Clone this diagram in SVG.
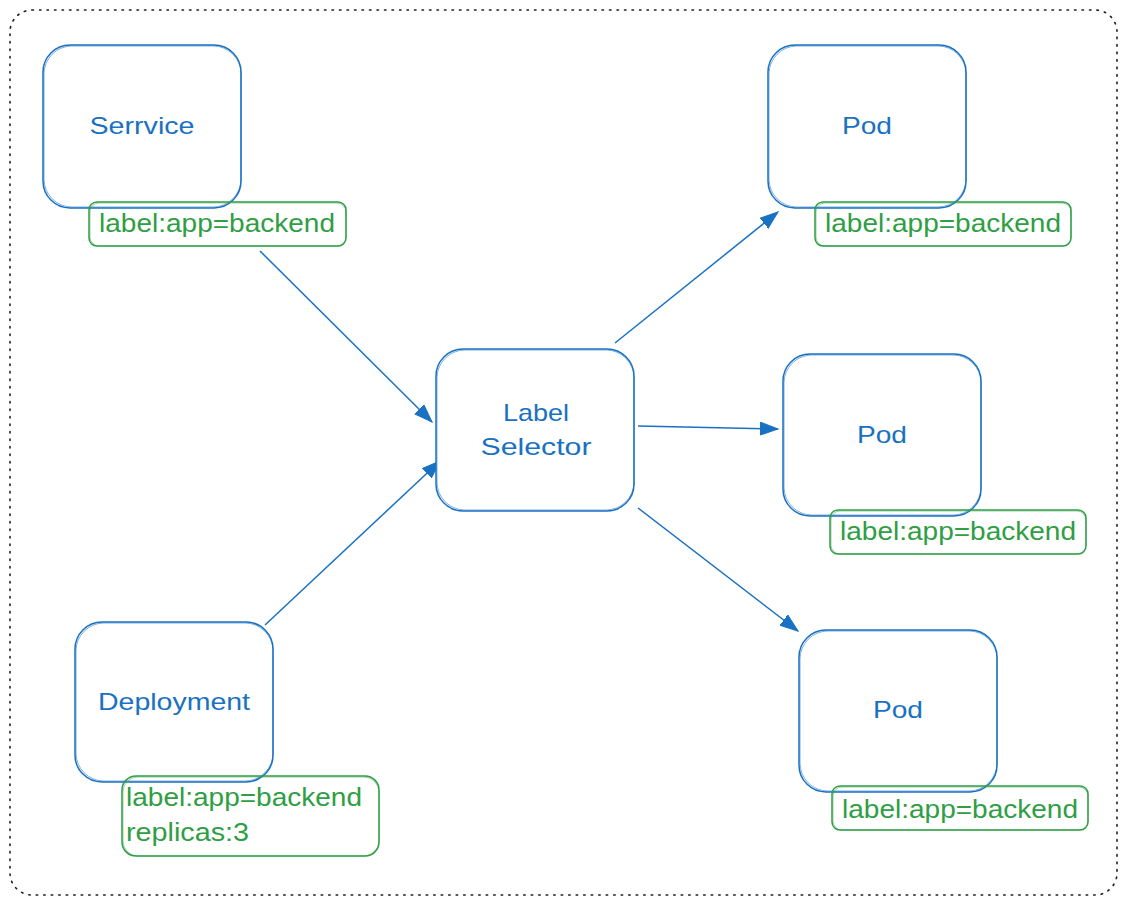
<svg xmlns="http://www.w3.org/2000/svg" width="1127" height="905" viewBox="0 0 1127 905">
<defs>
<style>
.frame{fill:none;stroke:#1e1e1e;stroke-width:1.6;stroke-dasharray:1.5 6;stroke-linecap:round}
.node{fill:#ffffff;stroke:#1971c2;stroke-width:1.5}
.node2{fill:none;stroke:#1971c2;stroke-width:0.8;opacity:0.7}
.lbl{fill:none;stroke:#2f9e44;stroke-width:1.5}
.lbl2{fill:none;stroke:#2f9e44;stroke-width:0.8;opacity:0.6}
.t{font-family:"Liberation Sans","Noto Sans",sans-serif;fill:#1971c2;font-size:24px}
.g{font-family:"Liberation Sans","Noto Sans",sans-serif;fill:#2f9e44;font-size:25px}
.edge{fill:none;stroke:#1971c2;stroke-width:1.5;marker-end:url(#ah)}
</style>
<marker id="ah" markerUnits="userSpaceOnUse" markerWidth="22" markerHeight="16" refX="18" refY="7" orient="auto">
<path d="M0,0.5 L18,7 L0,13.5 Z" fill="#1971c2" stroke="#1971c2" stroke-width="1"/>
</marker>
</defs>
<rect class="frame" x="10" y="10" width="1107" height="885" rx="22"/>

<g id="connectors">
<path class="edge" d="M260,251 L432,422"/>
<path class="edge" d="M265,625 L440,461"/>
<path class="edge" d="M615,343 L778,212"/>
<path class="edge" d="M638,426 L778,429"/>
<path class="edge" d="M638,508 L798,631"/>
</g>

<g id="service">
<rect class="node" x="43" y="45" width="198" height="163" rx="27"/>
<rect class="node2" x="44" y="46" width="197" height="161" rx="28"/>
<text class="t" x="142" y="134" text-anchor="middle" textLength="105" lengthAdjust="spacingAndGlyphs">Serrvice</text>
</g>
<g id="service-label">
<rect class="lbl" x="89" y="202" width="257" height="44" rx="8"/>
<rect class="lbl2" x="90" y="203" width="256" height="43" rx="9"/>
<text class="g" x="99" y="232" textLength="236" lengthAdjust="spacingAndGlyphs">label:app=backend</text>
</g>

<g id="pod1">
<rect class="node" x="768" y="45" width="198" height="163" rx="27"/>
<rect class="node2" x="769" y="46" width="197" height="161" rx="28"/>
<text class="t" x="867" y="134" text-anchor="middle" textLength="50" lengthAdjust="spacingAndGlyphs">Pod</text>
</g>
<g id="pod1-label">
<rect class="lbl" x="815" y="202" width="256" height="44" rx="8"/>
<rect class="lbl2" x="816" y="203" width="255" height="43" rx="9"/>
<text class="g" x="825" y="232" textLength="236" lengthAdjust="spacingAndGlyphs">label:app=backend</text>
</g>

<g id="selector">
<rect class="node" x="436" y="349" width="198" height="162" rx="27"/>
<rect class="node2" x="437" y="350" width="197" height="160" rx="28"/>
<text class="t" x="536" y="421" text-anchor="middle" textLength="66" lengthAdjust="spacingAndGlyphs">Label</text>
<text class="t" x="536" y="455" text-anchor="middle" textLength="111" lengthAdjust="spacingAndGlyphs">Selector</text>
</g>

<g id="pod2">
<rect class="node" x="783" y="354" width="198" height="162" rx="27"/>
<rect class="node2" x="784" y="355" width="197" height="160" rx="28"/>
<text class="t" x="882" y="443" text-anchor="middle" textLength="50" lengthAdjust="spacingAndGlyphs">Pod</text>
</g>
<g id="pod2-label">
<rect class="lbl" x="830" y="510" width="256" height="44" rx="8"/>
<rect class="lbl2" x="831" y="511" width="255" height="43" rx="9"/>
<text class="g" x="840" y="540" textLength="236" lengthAdjust="spacingAndGlyphs">label:app=backend</text>
</g>

<g id="pod3">
<rect class="node" x="799" y="630" width="198" height="162" rx="27"/>
<rect class="node2" x="800" y="631" width="197" height="160" rx="28"/>
<text class="t" x="898" y="718" text-anchor="middle" textLength="50" lengthAdjust="spacingAndGlyphs">Pod</text>
</g>
<g id="pod3-label">
<rect class="lbl" x="832" y="786" width="256" height="44" rx="8"/>
<rect class="lbl2" x="833" y="787" width="255" height="43" rx="9"/>
<text class="g" x="842" y="818" textLength="236" lengthAdjust="spacingAndGlyphs">label:app=backend</text>
</g>

<g id="deployment">
<rect class="node" x="75" y="622" width="198" height="160" rx="27"/>
<rect class="node2" x="76" y="623" width="197" height="158" rx="28"/>
<text class="t" x="174" y="710" text-anchor="middle" textLength="152" lengthAdjust="spacingAndGlyphs">Deployment</text>
</g>
<g id="deployment-label">
<rect class="lbl" x="122" y="776" width="257" height="80" rx="14"/>
<rect class="lbl2" x="123" y="777" width="256" height="79" rx="15"/>
<text class="g" x="126" y="806" textLength="236" lengthAdjust="spacingAndGlyphs">label:app=backend</text>
<text class="g" x="126" y="841" textLength="123" lengthAdjust="spacingAndGlyphs">replicas:3</text>
</g>
</svg>
